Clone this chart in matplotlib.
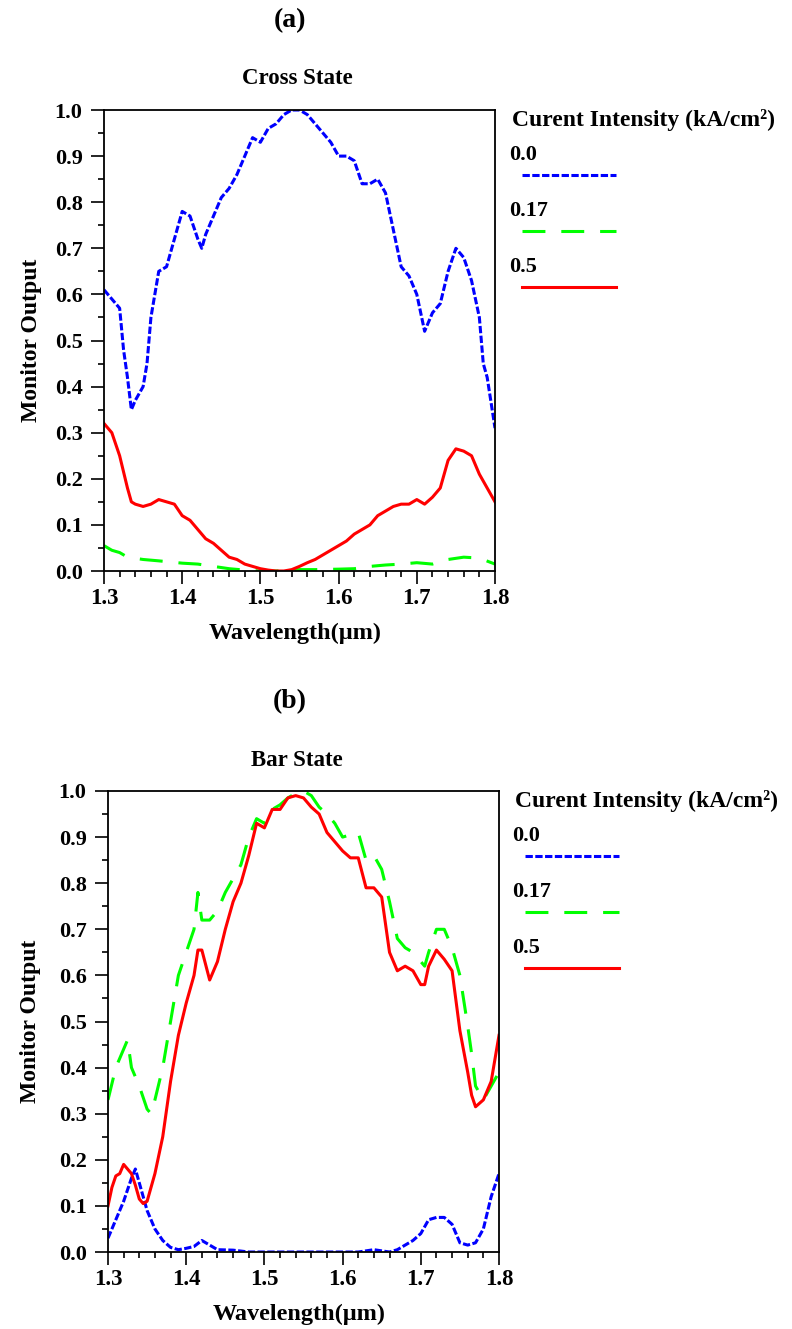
import matplotlib
matplotlib.use("Agg")
import matplotlib.pyplot as plt
from matplotlib.lines import Line2D
from matplotlib.ticker import MultipleLocator

plt.rcParams['font.family'] = ['Liberation Serif', 'DejaVu Serif']
plt.rcParams['font.weight'] = 'bold'

# ---- data: panel (a) Cross State ----
wl_a_blue = [1.30, 1.31, 1.32, 1.325, 1.33, 1.335, 1.34, 1.35, 1.355, 1.36, 1.37, 1.38, 1.39, 1.40,
             1.41, 1.42, 1.425, 1.43, 1.44, 1.45, 1.46, 1.47, 1.48, 1.49, 1.50, 1.51, 1.52, 1.53,
             1.54, 1.55, 1.56, 1.57, 1.58, 1.59, 1.60, 1.61, 1.62, 1.63, 1.64, 1.65, 1.66, 1.67,
             1.68, 1.69, 1.70, 1.71, 1.72, 1.73, 1.74, 1.75, 1.76, 1.77, 1.78, 1.785, 1.79, 1.80]
cross_00 = [0.61, 0.59, 0.57, 0.48, 0.42, 0.35, 0.37, 0.40, 0.45, 0.55, 0.65, 0.66, 0.72, 0.78,
            0.77, 0.72, 0.70, 0.73, 0.77, 0.81, 0.83, 0.86, 0.90, 0.94, 0.93, 0.96, 0.97, 0.99,
            1.00, 1.00, 0.99, 0.97, 0.95, 0.93, 0.90, 0.90, 0.89, 0.84, 0.84, 0.85, 0.82, 0.74,
            0.66, 0.64, 0.60, 0.52, 0.56, 0.58, 0.65, 0.70, 0.68, 0.63, 0.55, 0.45, 0.42, 0.31]

wl_a_green = [1.30, 1.31, 1.32, 1.33, 1.35, 1.37, 1.40, 1.42, 1.44, 1.46, 1.48, 1.50, 1.52, 1.55,
              1.57, 1.60, 1.62, 1.64, 1.66, 1.68, 1.70, 1.72, 1.74, 1.76, 1.78, 1.80]
cross_017 = [0.055, 0.045, 0.04, 0.03, 0.025, 0.022, 0.017, 0.015, 0.01, 0.005, 0.002, 0.0, 0.0,
             0.003, 0.003, 0.004, 0.005, 0.01, 0.013, 0.015, 0.018, 0.015, 0.025, 0.03, 0.028, 0.015]

wl_a_red = [1.30, 1.31, 1.32, 1.33, 1.335, 1.34, 1.35, 1.36, 1.37, 1.38, 1.39, 1.40, 1.41, 1.42,
            1.43, 1.44, 1.45, 1.46, 1.47, 1.48, 1.49, 1.50, 1.51, 1.52, 1.53, 1.54, 1.55, 1.56,
            1.57, 1.58, 1.59, 1.60, 1.61, 1.62, 1.63, 1.64, 1.65, 1.66, 1.67, 1.68, 1.69, 1.70,
            1.71, 1.72, 1.73, 1.74, 1.75, 1.76, 1.77, 1.78, 1.79, 1.80]
cross_05 = [0.32, 0.30, 0.25, 0.18, 0.15, 0.145, 0.14, 0.145, 0.155, 0.15, 0.145, 0.12, 0.11, 0.09,
            0.07, 0.06, 0.045, 0.03, 0.025, 0.015, 0.01, 0.005, 0.002, 0.0, 0.0, 0.003, 0.01, 0.018,
            0.025, 0.035, 0.045, 0.055, 0.065, 0.08, 0.09, 0.10, 0.12, 0.13, 0.14, 0.145, 0.145, 0.155,
            0.145, 0.16, 0.18, 0.24, 0.265, 0.26, 0.25, 0.21, 0.18, 0.15]

# ---- data: panel (b) Bar State ----
wl_b_blue = [1.30, 1.31, 1.32, 1.33, 1.335, 1.34, 1.35, 1.36, 1.37, 1.38, 1.39, 1.40, 1.41, 1.42,
             1.43, 1.44, 1.46, 1.48, 1.50, 1.55, 1.60, 1.62, 1.64, 1.66, 1.67, 1.68, 1.69, 1.70,
             1.71, 1.72, 1.73, 1.74, 1.75, 1.76, 1.77, 1.78, 1.79, 1.80]
bar_00 = [0.03, 0.07, 0.11, 0.16, 0.18, 0.15, 0.09, 0.05, 0.025, 0.01, 0.005, 0.008, 0.012, 0.025,
          0.015, 0.005, 0.004, 0.0, 0.0, 0.0, 0.0, 0.0, 0.005, 0.0, 0.005, 0.015, 0.025, 0.04,
          0.07, 0.075, 0.075, 0.06, 0.02, 0.015, 0.02, 0.05, 0.12, 0.17]

wl_b_green = [1.30, 1.31, 1.32, 1.325, 1.33, 1.34, 1.35, 1.355, 1.36, 1.37, 1.38, 1.39, 1.40, 1.41,
              1.415, 1.42, 1.43, 1.44, 1.45, 1.46, 1.47, 1.48, 1.49, 1.50, 1.51, 1.52, 1.53, 1.54,
              1.55, 1.56, 1.57, 1.58, 1.59, 1.60, 1.61, 1.62, 1.63, 1.64, 1.65, 1.66, 1.67, 1.68,
              1.69, 1.70, 1.705, 1.71, 1.72, 1.73, 1.74, 1.75, 1.76, 1.765, 1.77, 1.78, 1.79, 1.80]
bar_017 = [0.33, 0.40, 0.44, 0.46, 0.40, 0.36, 0.31, 0.30, 0.33, 0.40, 0.50, 0.60, 0.65, 0.70,
           0.78, 0.72, 0.72, 0.74, 0.78, 0.81, 0.84, 0.90, 0.94, 0.93, 0.96, 0.97, 0.985, 0.995,
           1.0, 0.99, 0.965, 0.95, 0.93, 0.90, 0.905, 0.91, 0.85, 0.86, 0.83, 0.76, 0.68, 0.66,
           0.65, 0.63, 0.62, 0.65, 0.70, 0.70, 0.66, 0.60, 0.49, 0.43, 0.36, 0.33, 0.36, 0.39]

wl_b_red = [1.30, 1.305, 1.31, 1.315, 1.32, 1.33, 1.335, 1.34, 1.345, 1.35, 1.36, 1.37, 1.38, 1.39,
            1.40, 1.41, 1.415, 1.42, 1.43, 1.44, 1.45, 1.46, 1.47, 1.48, 1.49, 1.50, 1.51, 1.52,
            1.53, 1.54, 1.55, 1.56, 1.57, 1.58, 1.59, 1.60, 1.61, 1.62, 1.63, 1.64, 1.65, 1.66,
            1.67, 1.68, 1.69, 1.70, 1.705, 1.71, 1.72, 1.73, 1.74, 1.75, 1.76, 1.765, 1.77, 1.78,
            1.79, 1.80]
bar_05 = [0.10, 0.14, 0.165, 0.17, 0.19, 0.17, 0.145, 0.115, 0.105, 0.11, 0.17, 0.25, 0.37, 0.47,
          0.54, 0.60, 0.655, 0.655, 0.59, 0.63, 0.70, 0.76, 0.80, 0.86, 0.93, 0.92, 0.96, 0.96,
          0.985, 0.99, 0.985, 0.965, 0.95, 0.91, 0.89, 0.87, 0.855, 0.855, 0.79, 0.79, 0.77, 0.65,
          0.61, 0.62, 0.61, 0.58, 0.58, 0.62, 0.655, 0.635, 0.61, 0.48, 0.39, 0.34, 0.315, 0.33,
          0.37, 0.47]

legend_labels = ['0.0', '0.17', '0.5']
colors = ['#0000ff', '#00ff00', '#ff0000']
styles = [(0, (2.4, 0.8)), (0, (7.5, 5.2)), '-']
lw = 2.2

W, H = 792, 1329
fig = plt.figure(figsize=(W / 100, H / 100), dpi=100)


def fx(px):
    return px / W


def fy(py):
    return 1 - py / H


def panel(left, top, series, title, leg_x):
    # both panels share the same layout, (b) is just shifted down
    right, bottom = left + 391, top + 461
    ax = fig.add_axes([fx(left), fy(bottom), fx(right - left), (bottom - top) / H])
    for (x, y), c, ls in zip(series, colors, styles):
        ax.plot(x, y, color=c, linestyle=ls, lw=lw)
    ax.set_xlim(1.3, 1.8)
    ax.set_ylim(0, 1.0)
    ax.xaxis.set_major_locator(MultipleLocator(0.1))
    ax.xaxis.set_minor_locator(MultipleLocator(0.02))
    ax.yaxis.set_major_locator(MultipleLocator(0.1))
    ax.yaxis.set_minor_locator(MultipleLocator(0.05))
    ax.xaxis.set_major_formatter(plt.FuncFormatter(lambda v, p: f'{v:.1f}'))
    ax.yaxis.set_major_formatter(plt.FuncFormatter(lambda v, p: f'{v:.1f}'))
    ax.tick_params(axis='y', which='major', direction='out', length=9.4, width=1.2,
                   labelsize=16, pad=6)
    ax.tick_params(axis='y', which='minor', direction='out', length=4.3, width=1.2)
    ax.tick_params(axis='x', which='major', direction='out', length=9.4, width=1.2,
                   labelsize=16.5, pad=3)
    ax.tick_params(axis='x', which='minor', direction='out', length=4.3, width=1.2)
    for s in ax.spines.values():
        s.set_linewidth(1.3)
    ax.set_xlabel('Wavelength(\u03bcm)', fontsize=17.5, fontweight='bold', va='center')
    ax.xaxis.set_label_coords(0.5 - 4 / 391, -62 / 461)
    ax.set_ylabel('Monitor Output', fontsize=17, fontweight='bold', va='center')
    ax.yaxis.set_label_coords(-(left - 31) / 391, 0.5)

    tag = '(a)' if top < 400 else '(b)'
    fig.text(fx(290), fy(top - 89), tag, ha='center', va='center', fontsize=20, fontweight='bold')
    fig.text(fx(297), fy(top - 31), title, ha='center', va='center', fontsize=16.5,
             fontweight='bold')

    fig.text(fx(leg_x), fy(top + 10), 'Curent Intensity (kA/cm\u00b2)', ha='left', va='center',
             fontsize=17, fontweight='bold')
    for i, (lab, c, ls) in enumerate(zip(legend_labels, colors, styles)):
        yl = top + 45 + 56 * i
        yline = top + 65 + 56 * i
        fig.text(fx(leg_x - 3), fy(yl), lab, ha='left', va='center', fontsize=16,
                 fontweight='bold')
        fig.add_artist(Line2D([fx(leg_x + 10), fx(leg_x + 104)], [fy(yline), fy(yline)],
                              color=c, linestyle=ls, lw=lw, transform=fig.transFigure))
    return ax


panel(104, 110,
      [(wl_a_blue, cross_00), (wl_a_green, cross_017), (wl_a_red, cross_05)],
      'Cross State', 512)

panel(108, 791,
      [(wl_b_blue, bar_00), (wl_b_green, bar_017), (wl_b_red, bar_05)],
      'Bar State', 515)

fig.savefig('out.png', dpi=100)
